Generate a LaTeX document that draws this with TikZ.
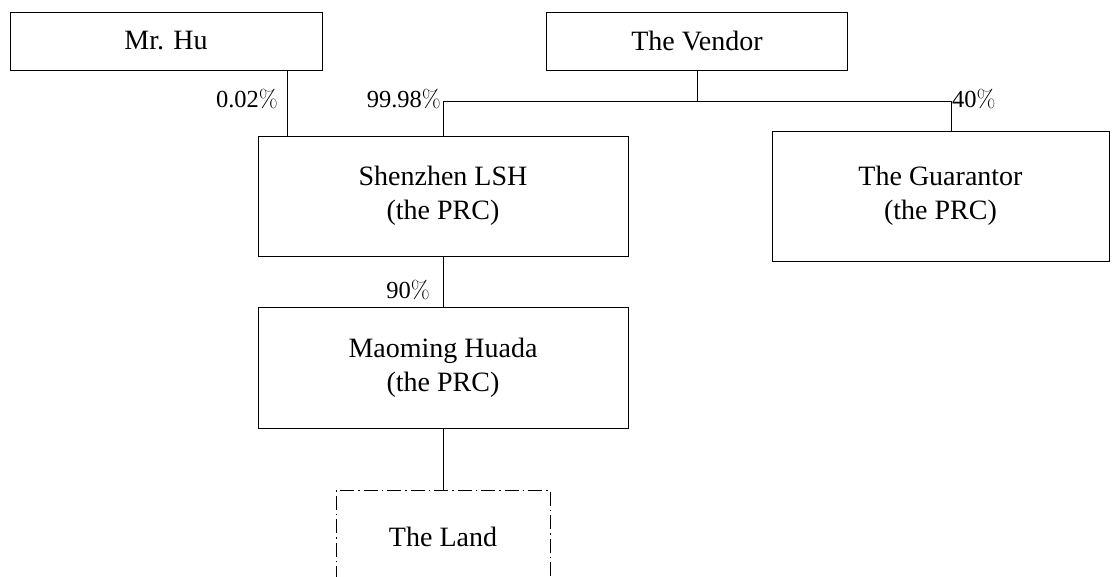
\documentclass[tikz,border=0pt]{standalone}
\usepackage{fontspec}
\setmainfont{Liberation Serif}
\newfontfamily\lmfont{Latin Modern Roman}
\newcommand{\pc}{{\lmfont\%}}
\begin{document}
\begin{tikzpicture}[x=1pt,y=-1pt,
  box/.style={draw, line width=1pt, inner sep=0pt, align=center, font=\fontsize{28}{34}\selectfont},
  conn/.style={line width=1pt},
  pct/.style={font=\fontsize{24.5}{28}\selectfont, inner sep=1pt},
  landbox/.style={line width=1pt, dash pattern=on 14pt off 4pt on 1.5pt off 4pt}]
\useasboundingbox (0,0) rectangle (1119,576);
\node[box, minimum width=312pt, minimum height=58pt] (hu) at (166,41) {Mr. Hu};
\node[box, minimum width=301pt, minimum height=58pt] (vendor) at (697,41) {The Vendor};
\node[box, minimum width=370pt, minimum height=120pt] (sz) at (443,196) {Shenzhen LSH\\(the PRC)};
\node[box, minimum width=337pt, minimum height=130pt] (gu) at (940.5,196) {The Guarantor\\(the PRC)};
\node[box, minimum width=370pt, minimum height=121pt] (mh) at (443,367.5) {Maoming Huada\\(the PRC)};
\node[font=\fontsize{28}{34}\selectfont] (land) at (443,537) {The Land};
\coordinate (lt) at (336,490);
\coordinate (rt) at (550,490);
\coordinate (lb) at (336,580);
\coordinate (rb) at (550,580);
\draw[landbox] (lb) -- (lt) -- (rt) -- (rb);
% connectors
\coordinate (hj) at (287,136);
\draw[conn] (hu.south -| hj) -- (hj);
\coordinate (vj) at (697,101);
\coordinate (lj) at (443,101);
\coordinate (rj) at (951,101);
\draw[conn] (vendor.south) -- (vj);
\draw[conn] (sz.north) -- (lj) -- (rj) -- (rj |- gu.north);
\draw[conn] (sz.south) -- (mh.north);
\draw[conn] (mh.south) -- (lt -| mh.south);
% labels
\node[pct, anchor=east] (p1) at (279,99) {0.02\pc};
\node[pct, anchor=east] (p2) at (442,99) {99.98\pc};
\node[pct, anchor=west] (p3) at (951,99) {40\pc};
\node[pct, anchor=east] (p4) at (431,290) {90\pc};
\end{tikzpicture}
\end{document}
